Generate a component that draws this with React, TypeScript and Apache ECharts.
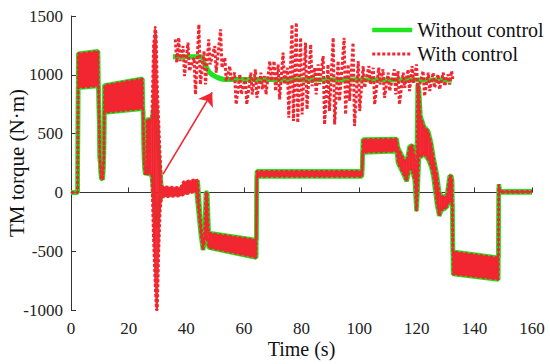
import React, { useEffect, useRef } from 'react';
import * as echarts from 'echarts';

// ---- main signal envelopes (time in s, torque in N·m) ----
const TIME = [0, 2.3, 2.5, 9.4, 9.6, 10.0, 10.5, 11.0, 11.4, 11.6, 24.8, 25.0, 25.4, 25.8, 26.2, 26.4, 28.0, 28.6, 29.2, 29.6, 30.0, 30.5, 31.0, 31.5, 38.0, 39.0, 43.5, 44.0, 45.0, 45.8, 46.3, 46.8, 47.3, 47.8, 64.3, 64.5, 101.0, 101.3, 113.0, 113.5, 114.5, 115.5, 116.5, 117.5, 118.5, 119.3, 119.9, 120.3, 120.8, 121.3, 122.5, 124.0, 125.0, 125.8, 127.0, 127.8, 128.6, 129.6, 130.5, 131.4, 132.0, 132.3, 132.6, 148.3, 148.5, 148.8, 160.0];

const WITH_UPPER = [0, 0, 1180, 1200, 850, 300, 120, 110, 300, 910, 967, 700, 250, 150, 200, 620, 620, 1250, 1410, 1350, 900, 600, 300, 50, 40, 90, 110, 100, -250, -420, -380, 0, 0, -345, -405, 180, 180, 450, 455, 380, 330, 280, 260, 390, 400, 300, 100, 920, 880, 650, 560, 520, 420, 300, 150, 0, -30, -40, -20, 140, 140, 100, -505, -555, 70, 10, 10];
const WITH_LOWER = [0, 0, 890, 905, 850, 300, 120, 110, 300, 680, 712, 700, 250, 150, 170, 160, 150, -400, -800, -1000, -1000, -500, -150, -40, -30, -20, 10, -100, -350, -490, -430, -380, -400, -470, -555, 135, 135, 340, 350, 250, 200, 150, 95, 200, 180, 100, -160, 0, 320, 300, 330, 280, 220, 130, -100, -200, -150, -140, -120, -60, -100, -100, -695, -740, 40, 0, 0];

const WITHOUT_UPPER = [0, 0, 1180, 1200, 850, 300, 120, 110, 300, 910, 967, 700, 250, 150, 200, 620, 620, 700, 800, 700, 500, 300, 150, 20, 20, 60, 80, 100, -250, -420, -380, 0, 0, -345, -405, 180, 180, 450, 455, 380, 330, 280, 260, 390, 400, 300, 100, 920, 880, 650, 560, 520, 420, 300, 150, 0, -30, -40, -20, 140, 140, 100, -505, -555, 70, 10, 10];
const WITHOUT_LOWER = [0, 0, 890, 905, 850, 300, 120, 110, 300, 680, 712, 700, 250, 150, 170, 160, 150, 0, -200, -300, -250, -100, -60, -20, -10, 0, 20, -100, -350, -490, -430, -380, -400, -470, -555, 135, 135, 340, 350, 250, 200, 150, 95, 200, 180, 100, -160, 0, 320, 300, 330, 280, 220, 130, -100, -200, -150, -140, -120, -60, -100, -100, -695, -740, 40, 0, 0];

// ---- magnified view (drawn in the upper part of the plot) ----
const INSET_T = [36.2, 37.4, 38.9, 40.6, 42.7, 44.4, 46.2, 47.8, 49.9, 51.9, 53.4, 55.1, 56.8, 58.6, 60.5, 62.4, 64.0, 65.9, 67.2, 69.0, 70.5, 71.9, 73.6, 75.1, 76.7, 78.2, 79.7, 81.4, 83.2, 84.6, 85.8, 87.5, 89.2, 91.0, 92.7, 94.8, 96.2, 97.9, 99.7, 101.4, 103.4, 104.9, 106.8, 108.3, 110.1, 112.2, 113.5, 115.3, 117.0, 118.4, 119.9, 122.2, 124.0, 125.7, 127.4, 129.2, 130.9, 132.1];
const INSET_HIGH = [1301, 1315, 1244, 1273, 1145, 1428, 1202, 1301, 1244, 1386, 1145, 1074, 1018, 1003, 975, 1018, 1046, 1018, 989, 1117, 1117, 1088, 1188, 1060, 1428, 1443, 1315, 1273, 1258, 1060, 1088, 1159, 1088, 1315, 1117, 1315, 1088, 1273, 1117, 1074, 1074, 1060, 1060, 1046, 1018, 1046, 1032, 1018, 1046, 1074, 1088, 1032, 1018, 1018, 1003, 1018, 1003, 1032];
const INSET_LOW = [1103, 1117, 989, 1032, 833, 918, 918, 1088, 1018, 1060, 947, 947, 748, 833, 748, 833, 805, 876, 833, 947, 862, 791, 918, 635, 607, 592, 663, 706, 904, 833, 918, 578, 692, 578, 777, 663, 777, 564, 692, 890, 918, 748, 918, 805, 862, 833, 748, 890, 862, 932, 862, 819, 862, 890, 876, 904, 918, 947];
const INSET_GREEN_T = [35.4, 45.2, 46.4, 48.2, 50.5, 53.4, 132.2];
const INSET_GREEN_V = [1154, 1154, 1088, 1018, 981, 961, 955];

// arrow from the transient to the magnified view
const ARROW_FROM = [31.9, 153];
const ARROW_TO = [49.0, 850];

const X_TICKS = { min: 0, max: 160, interval: 20 };
const Y_TICKS = { min: -1000, max: 1500, interval: 500 };

const GREEN = '#1ee41e';
const RED = '#f22630';
const FONT = 'Liberation Serif';

export default function App() {
  const ref = useRef<HTMLDivElement>(null);
  useEffect(() => {
    document.body.style.margin = '0';
    if (!ref.current) return;
    const chart = echarts.init(ref.current, null, { renderer: 'svg' });

    const pair = (ys: number[]) => TIME.map((t, i) => [t, ys[i]]);
    const band = TIME.map((t, i) => [t, WITH_UPPER[i], WITH_LOWER[i]]);
    const insetRed: number[][] = [];
    INSET_T.forEach((t, i) => {
      insetRed.push([t, INSET_HIGH[i]]);
      insetRed.push([t + 0.5, INSET_LOW[i]]);
    });
    const insetGreen = INSET_GREEN_T.map((t, i) => [t, INSET_GREEN_V[i]]);

    const greenLine = { color: GREEN, width: 4.5 };
    const redLine = { color: RED, width: 2.6, type: [3, 2] as any, cap: 'butt' as any };

    chart.setOption({
      animation: false,
      textStyle: { fontFamily: FONT },
      grid: { left: 71, right: 18, top: 16, bottom: 54, containLabel: false, outerBoundsMode: 'none' },
      legend: {
        data: [
          { name: 'Without control', itemStyle: { opacity: 0 }, lineStyle: { width: 4.5, color: GREEN } },
          { name: 'With control', itemStyle: { opacity: 0 }, lineStyle: { width: 3, color: RED, type: [3, 2] } },
        ],
        orient: 'vertical',
        left: 365,
        top: 15,
        itemWidth: 40,
        itemHeight: 14,
        itemGap: 4,
        textStyle: { fontFamily: FONT, fontSize: 20, color: '#111' },
      },
      xAxis: {
        type: 'value',
        ...X_TICKS,
        name: 'Time (s)',
        nameLocation: 'middle',
        nameGap: 29,
        nameMoveOverlap: false,
        nameTextStyle: { fontFamily: FONT, fontSize: 20, color: '#111', verticalAlign: 'top' },
        axisLine: { show: true, lineStyle: { color: '#333', width: 1 } },
        axisTick: { show: true, inside: true, length: 5, lineStyle: { color: '#333' } },
        axisLabel: { fontFamily: FONT, fontSize: 17, color: '#222', margin: 10, formatter: (v: number) => String(v) },
        splitLine: { show: false },
      },
      yAxis: {
        type: 'value',
        ...Y_TICKS,
        name: 'TM torque (N·m)',
        nameLocation: 'middle',
        nameGap: 44,
        nameMoveOverlap: false,
        nameTextStyle: { fontFamily: FONT, fontSize: 21, color: '#111' },
        axisLine: { show: true, lineStyle: { color: '#333', width: 1 } },
        axisTick: { show: true, inside: true, length: 5, lineStyle: { color: '#333' } },
        axisLabel: { fontFamily: FONT, fontSize: 17, color: '#222', margin: 8, formatter: (v: number) => String(v) },
        splitLine: { show: false },
      },
      series: [
        { name: 'Without control', type: 'line', data: pair(WITHOUT_UPPER), symbol: 'none', lineStyle: greenLine, itemStyle: { color: GREEN }, z: 2 },
        { name: 'Without control', type: 'line', data: pair(WITHOUT_LOWER), symbol: 'none', lineStyle: greenLine, itemStyle: { color: GREEN }, z: 2 },
        {
          name: 'band',
          type: 'custom',
          data: band,
          encode: { x: 0, y: [1, 2] },
          clip: true,
          z: 3,
          renderItem: (params: any, api: any) => {
            const i = params.dataIndex;
            if (i === 0) return null;
            const p = band[i - 1];
            const a = api.coord([p[0], p[1]]);
            const b = api.coord([api.value(0), api.value(1)]);
            const c = api.coord([api.value(0), api.value(2)]);
            const d = api.coord([p[0], p[2]]);
            return {
              type: 'polygon',
              shape: { points: [a, b, c, d] },
              style: { fill: RED, stroke: RED, lineWidth: 0.6 },
            };
          },
        },
        { name: 'With control', type: 'line', data: pair(WITH_UPPER), symbol: 'none', lineStyle: redLine, itemStyle: { color: RED }, z: 4 },
        { name: 'With control', type: 'line', data: pair(WITH_LOWER), symbol: 'none', lineStyle: redLine, itemStyle: { color: RED }, z: 4 },
        { name: 'Without control', type: 'line', data: insetGreen, symbol: 'none', smooth: 0.4, lineStyle: { color: GREEN, width: 5 }, z: 5 },
        { name: 'With control', type: 'line', data: insetRed, symbol: 'none', lineStyle: { color: RED, width: 3, type: [3, 2], cap: 'butt' }, z: 6 },
        {
          name: 'arrow',
          type: 'lines',
          coordinateSystem: 'cartesian2d',
          data: [{ coords: [ARROW_FROM, ARROW_TO] }],
          symbol: ['none', 'arrow'],
          symbolSize: 13,
          lineStyle: { color: RED, width: 1.6, opacity: 1 },
          z: 7,
        },
      ],
    });
    return () => chart.dispose();
  }, []);
  return <div ref={ref} style={{ width: 550, height: 364 }} />;
}
